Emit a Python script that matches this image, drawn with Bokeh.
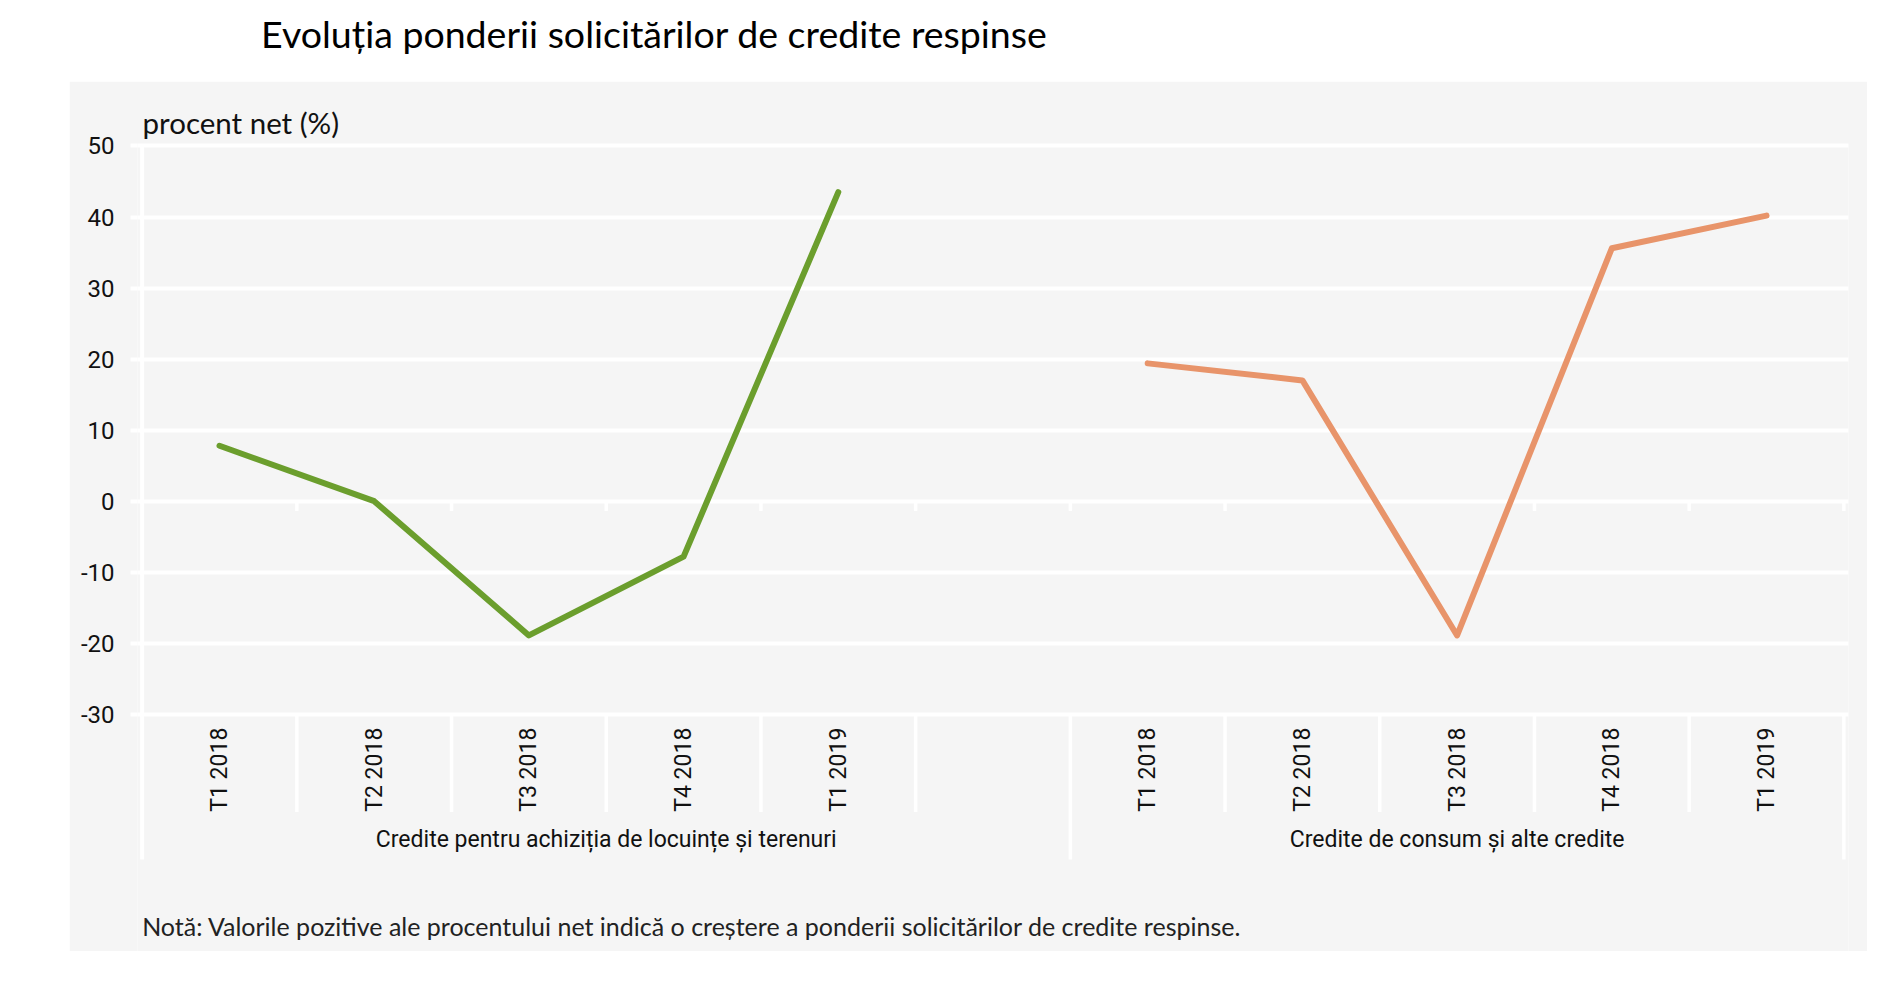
import math
from bokeh.plotting import figure
from bokeh.models import (FactorRange, Range1d, FixedTicker, Label, ColumnDataSource,
                          Spacer, Title)
from bokeh.layouts import column, row
from bokeh.core.properties import value
from bokeh.embed import file_html
from bokeh.resources import INLINE

# ---------------- data ----------------
title_text = "Evoluția ponderii solicitărilor de credite respinse"
y_unit_label = "procent net (%)"
note_text = ("Notă: Valorile pozitive ale procentului net indică o creștere  "
             "a ponderii solicitărilor de credite respinse.")
groups = ["Credite pentru achiziția de locuințe și terenuri",
          "Credite de consum și alte credite"]
quarters = ["T1 2018", "T2 2018", "T3 2018", "T4 2018", "T1 2019"]
housing = [7.8, 0.0, -18.9, -7.8, 43.5]
consumer = [19.4, 17.0, -18.9, 35.6, 40.2]
y_ticks = [-30, -20, -10, 0, 10, 20, 30, 40, 50]

# ---------------- style ----------------
BG = "#f5f5f5"
GREEN = "#6b9e2d"
ORANGE = "#e8946a"
NARROW = "Roboto"
SANS = "Lato"
TXT = "#111111"
W = 1798
MAIN_H = 870
TITLE_H = 81

# ---------------- factors ----------------
factors = ([(groups[0], q) for q in quarters] + [(groups[0], " ")] +
           [(groups[1], q) for q in quarters])
n_first = len(quarters) + 1
n_total = len(factors)

x_range = FactorRange(factors=factors, factor_padding=0, group_padding=0,
                      subgroup_padding=0, range_padding=0.03,
                      range_padding_units="absolute")

p = figure(width=W, height=MAIN_H, x_range=x_range, y_range=Range1d(-63.39, 50.35),
           output_backend="svg", toolbar_location=None,
           x_axis_location=None,
           min_border_left=68, min_border_right=19, min_border_top=62,
           min_border_bottom=0,
           background_fill_color=BG, border_fill_color=BG, outline_line_color=None)

p.title = Title(text=y_unit_label, align="left", offset=5, standoff=8,
                vertical_align="bottom", text_font=SANS, text_font_size="29.5px",
                text_font_style="normal", text_color=TXT)

for g in p.xgrid:
    g.visible = False

ax = p.yaxis[0]
ax.ticker = FixedTicker(ticks=y_ticks)
ax.major_label_overrides = {v: str(v) for v in y_ticks}
ax.axis_line_color = None
ax.major_tick_line_color = "white"
ax.major_tick_line_width = 4
ax.major_tick_out = 7
ax.major_tick_in = 0
ax.minor_tick_line_color = None
ax.major_label_standoff = 16
ax.major_label_text_font = NARROW
ax.major_label_text_font_size = "24px"
ax.major_label_text_color = TXT

p.ygrid.ticker = FixedTicker(ticks=y_ticks)
p.ygrid.grid_line_color = "white"
p.ygrid.grid_line_width = 4

# left border line, group separators, category separators, zero-line ticks
sep_bottom_inner = -43.75
sep_bottom_outer = -50.44
p.segment(x0=[0], y0=[y_ticks[-1] + 0.28], x1=[0], y1=[sep_bottom_outer],
          line_color="white", line_width=4)
inner = [i for i in range(1, n_total) if i != n_first]
outer = [n_first, n_total]
p.segment(x0=inner, y0=[y_ticks[0]] * len(inner), x1=inner,
          y1=[sep_bottom_inner] * len(inner), line_color="white", line_width=3.5)
p.segment(x0=outer, y0=[y_ticks[0]] * len(outer), x1=outer,
          y1=[sep_bottom_outer] * len(outer), line_color="white", line_width=3.5)
zt = list(range(1, n_total + 1))
p.segment(x0=zt, y0=[0] * len(zt), x1=zt, y1=[-1.37] * len(zt),
          line_color="white", line_width=3.5)

# data lines
src_h = ColumnDataSource(dict(x=[(groups[0], q) for q in quarters], y=housing))
src_c = ColumnDataSource(dict(x=[(groups[1], q) for q in quarters], y=consumer))
p.line("x", "y", source=src_h, line_color=GREEN, line_width=6,
       line_join="round", line_cap="round")
p.line("x", "y", source=src_c, line_color=ORANGE, line_width=6,
       line_join="round", line_cap="round")

# category labels (rotated) and group labels
cat_x = [f for f in factors if f[1].strip()]
cat_src = ColumnDataSource(dict(x=cat_x, y=[-37.8] * len(cat_x), t=[f[1] for f in cat_x]))
p.text("x", "y", text="t", source=cat_src, angle=math.pi / 2,
       text_align="center", text_baseline="middle",
       text_font=value(NARROW), text_font_size="23px", text_color=TXT)
grp_src = ColumnDataSource(dict(x=groups, y=[-47.6] * len(groups), t=groups))
p.text("x", "y", text="t", source=grp_src,
       text_align="center", text_baseline="middle",
       text_font=value(NARROW), text_font_size="23px", text_color=TXT)

# note inside the (extended) frame
p.add_layout(Label(x=0, y=-59.8, text=note_text, text_font=SANS,
                   text_font_size="25px", text_color="#222222",
                   text_baseline="alphabetic"))

# ---------------- title strip ----------------
t = figure(width=1870, height=TITLE_H, x_range=Range1d(0, 1870),
           y_range=Range1d(0, TITLE_H), output_backend="svg",
           toolbar_location=None, title=None, x_axis_location=None,
           y_axis_location=None, min_border=0, outline_line_color=None,
           background_fill_color="white", border_fill_color="white")
for g in t.grid:
    g.visible = False
t.add_layout(Label(x=260.6, y=48, text=title_text, text_font=SANS,
                   text_font_size="37.5px", text_color="#000000",
                   text_baseline="alphabetic"))

layout = column(t, row(Spacer(width=69, height=MAIN_H), p))
open("out.html", "w").write(file_html(layout, INLINE))
